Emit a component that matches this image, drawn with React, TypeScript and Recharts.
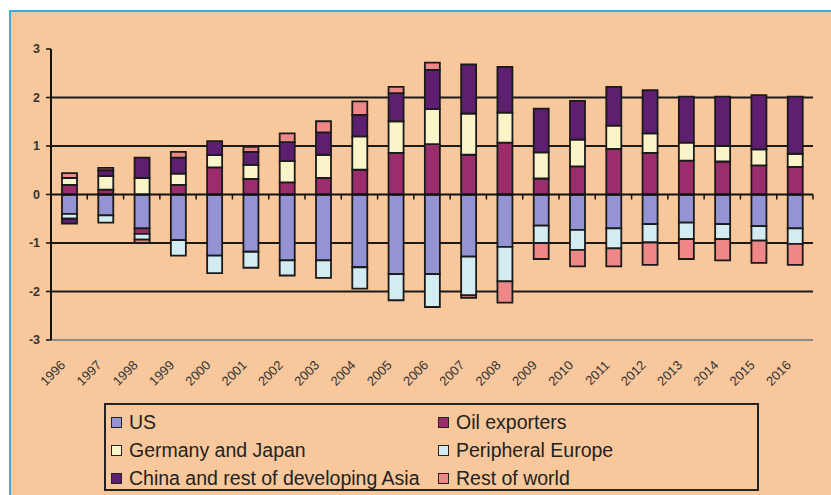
import React from 'react';
import { BarChart, Bar, XAxis, YAxis, CartesianGrid, ReferenceLine } from 'recharts';

const years = ['1996', '1997', '1998', '1999', '2000', '2001', '2002', '2003', '2004', '2005', '2006',
  '2007', '2008', '2009', '2010', '2011', '2012', '2013', '2014', '2015', '2016'];

const us = [-0.4, -0.43, -0.7, -0.94, -1.26, -1.18, -1.36, -1.36, -1.5, -1.64, -1.64, -1.28, -1.08, -0.64, -0.73, -0.7, -0.61, -0.58, -0.61, -0.65, -0.7];
const oilExporters = [0.2, 0.1, -0.11, 0.2, 0.56, 0.32, 0.25, 0.34, 0.51, 0.86, 1.04, 0.82, 1.07, 0.33, 0.58, 0.94, 0.86, 0.7, 0.68, 0.6, 0.57];
const germanyJapan = [0.14, 0.28, 0.34, 0.23, 0.25, 0.29, 0.44, 0.48, 0.69, 0.65, 0.72, 0.85, 0.62, 0.54, 0.55, 0.48, 0.4, 0.37, 0.32, 0.33, 0.27];
const peripheralEurope = [-0.1, -0.15, -0.12, -0.32, -0.36, -0.33, -0.31, -0.36, -0.44, -0.54, -0.68, -0.8, -0.71, -0.36, -0.41, -0.41, -0.38, -0.34, -0.31, -0.3, -0.32];
const chinaAsia = [-0.1, 0.12, 0.42, 0.33, 0.29, 0.27, 0.39, 0.46, 0.44, 0.58, 0.81, 1.01, 0.94, 0.9, 0.8, 0.8, 0.89, 0.95, 1.02, 1.12, 1.18];
const restOfWorld = [0.1, 0.05, -0.07, 0.12, 0, 0.1, 0.18, 0.23, 0.28, 0.13, 0.15, -0.05, -0.44, -0.33, -0.34, -0.37, -0.46, -0.41, -0.44, -0.46, -0.43];

const yTicks = [-3, -2, -1, 0, 1, 2, 3];

const series = [
  { key: 'us', name: 'US', color: '#9494d4', values: us },
  { key: 'oil', name: 'Oil exporters', color: '#9c2d6c', values: oilExporters },
  { key: 'gj', name: 'Germany and Japan', color: '#faf5c8', values: germanyJapan },
  { key: 'pe', name: 'Peripheral Europe', color: '#d2ecf2', values: peripheralEurope },
  { key: 'china', name: 'China and rest of developing Asia', color: '#5e1f70', values: chinaAsia },
  { key: 'row', name: 'Rest of world', color: '#ee8787', values: restOfWorld },
];

const data = years.map((year, i) => {
  const row: any = { year };
  series.forEach(s => { row[s.key] = s.values[i]; });
  return row;
});

const PEACH = '#f8c89c';
const FONT = '"Liberation Sans", Arial, sans-serif';

// rotated year labels under the plot
const YearTick = ({ x, y, payload }: any) => (
  <text
    x={x - 3}
    y={y + 24}
    transform={`rotate(-45, ${x - 3}, ${y + 24})`}
    textAnchor="end"
    fontSize={13}
    fontFamily={FONT}
    fill="#333"
  >
    {payload.value}
  </text>
);

// zero line with small ticks between the categories
const ZeroLine = (props: any) => {
  const { x1, x2, y1 } = props;
  const step = (x2 - x1) / years.length;
  const ticks = [];
  for (let i = 1; i <= years.length; i++) {
    const tx = x1 + i * step;
    ticks.push(<line key={i} x1={tx} x2={tx} y1={y1} y2={y1 + 5} stroke="#111" strokeWidth={1.5} />);
  }
  return (
    <g>
      <line x1={x1} x2={x2} y1={y1} y2={y1} stroke="#111" strokeWidth={2} />
      {ticks}
    </g>
  );
};

export default function App() {
  return (
    <div style={{ position: 'absolute', left: 0, top: 0, width: 831, height: 495, background: '#fff', overflow: 'hidden' }}>
      <div
        style={{
          position: 'absolute', left: 9, top: 10, width: 822, height: 485, background: PEACH,
          borderLeft: '2px solid #3aaee2', borderTop: '2px solid #3aaee2',
        }}
      />
      <div style={{ position: 'absolute', left: 0, top: 0 }}>
        <BarChart
          width={831}
          height={495}
          data={data}
          stackOffset="sign"
          barSize={15}
          margin={{ top: 49, right: 18, left: 11, bottom: 95 }}
        >
          <CartesianGrid vertical={false} horizontalValues={[-2, -1, 1, 2]} stroke="#1a1a1a" strokeWidth={2} />
          <XAxis
            dataKey="year"
            height={60}
            interval={0}
            tick={<YearTick />}
            tickLine={false}
            tickSize={0}
            axisLine={{ stroke: '#8a8a8a', strokeWidth: 2 }}
          />
          <XAxis xAxisId="top" orientation="top" dataKey="year" height={0} tick={false} tickLine={false} axisLine={{ stroke: '#8a8a8a', strokeWidth: 2 }} />
          <YAxis
            domain={[-3, 3]}
            ticks={yTicks}
            width={40}
            interval={0}
            tickSize={5}
            tickMargin={6}
            tick={{ fontSize: 12.5, fontWeight: 'bold', fill: '#333', fontFamily: FONT }}
            tickLine={{ stroke: '#111', strokeWidth: 1.5 }}
            axisLine={{ stroke: '#111', strokeWidth: 2 }}
          />
          <YAxis yAxisId="right" orientation="right" domain={[-3, 3]} width={0} tick={false} tickLine={false} axisLine={{ stroke: '#8a8a8a', strokeWidth: 2 }} />
          {series.map(s => (
            <Bar
              key={s.key}
              dataKey={s.key}
              name={s.name}
              stackId="a"
              fill={s.color}
              stroke="#1a1a1a"
              strokeWidth={1.8}
              isAnimationActive={false}
            />
          ))}
          <ReferenceLine y={0} shape={<ZeroLine />} />
        </BarChart>
      </div>
      <div
        style={{
          position: 'absolute', left: 104, top: 403, width: 651, height: 84,
          border: '2px solid #222', fontFamily: FONT, fontSize: 19.5, color: '#222',
        }}
      >
        {series.map((s, i) => (
          <div
            key={s.key}
            style={{
              position: 'absolute',
              left: i % 2 === 0 ? 5 : 332,
              top: 4 + Math.floor(i / 2) * 28,
              height: 26,
              display: 'flex',
              alignItems: 'center',
              whiteSpace: 'nowrap',
            }}
          >
            <span style={{ display: 'inline-block', width: 9, height: 9, background: s.color, border: '1.5px solid #222', marginRight: 7 }} />
            {s.name}
          </div>
        ))}
      </div>
    </div>
  );
}
